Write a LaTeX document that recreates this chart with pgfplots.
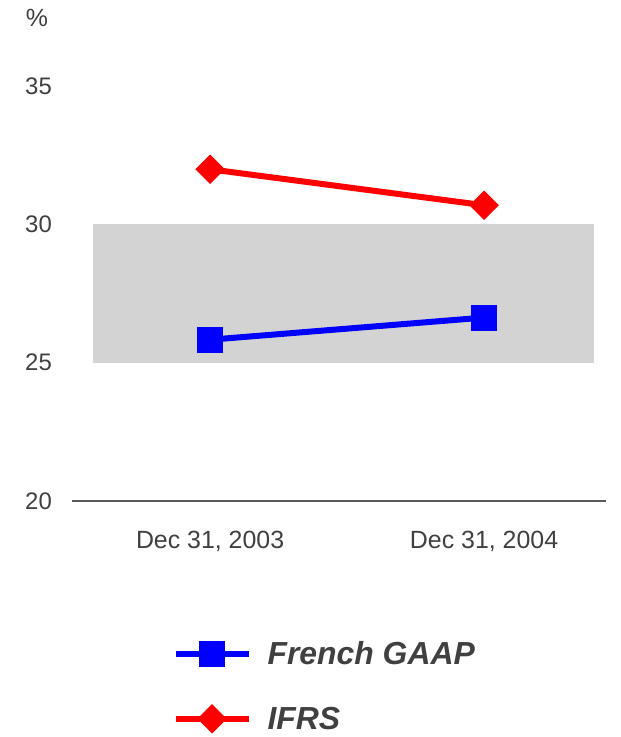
\documentclass[border=0pt]{standalone}
\usepackage{pgfplots}
\pgfplotsset{compat=1.18}
\usepackage{fontspec}
\setmainfont{Liberation Sans}
\definecolor{txt}{HTML}{404040}
\definecolor{band}{HTML}{D3D3D3}
\definecolor{axln}{HTML}{595959}
\begin{document}
\begin{tikzpicture}
\useasboundingbox (0,0) rectangle (621bp,737bp);
\begin{axis}[
  at={(72bp,236bp)}, anchor=south west,
  scale only axis, width=534bp, height=415bp,
  xmin=-0.504, xmax=1.445, ymin=20, ymax=35,
  axis x line=bottom, axis y line=left,
  axis line style={-},
  x axis line style={draw=axln, line width=1.5bp},
  y axis line style={draw=none},
  major tick length=0pt,
  xtick={0,1}, xticklabels={{Dec 31, 2003}, {Dec 31, 2004}},
  ytick={20,25,30,35},
  /pgf/number format/assume math mode=true,
  tick label style={font=\fontsize{24}{27}\selectfont, text=txt},
  yticklabel style={anchor=east, inner sep=0pt, xshift=-20bp},
  xticklabel style={anchor=north, inner sep=0pt, yshift=-30bp, font=\fontsize{25}{28}\selectfont},
  clip=false,
  legend style={draw=none, fill=none, at={(0.188,-0.333)}, anchor=north west,
    font=\fontsize{32}{36}\selectfont\bfseries\itshape, text=txt,
    row sep=37bp, inner sep=0pt,
    /tikz/every odd column/.append style={column sep=14bp}},
  legend cell align=left,
  legend image code/.code={\draw[#1, mark repeat=2, mark phase=2] plot coordinates {(0bp,0bp) (36.5bp,0bp) (73bp,0bp)};},
]
\addplot[fill=band, draw=none, forget plot] coordinates {(-0.427,25) (1.4,25) (1.4,30) (-0.427,30)} -- cycle;
\addplot[blue, line width=6bp, mark=square*, mark size=10bp, mark options={solid}] coordinates {(0,25.83) (1,26.63)};
\addlegendentry{French GAAP}
\addplot[red, line width=6bp, mark=square*, mark size=7.4bp, mark options={solid, rotate=45}] coordinates {(0,31.99) (1,30.69)};
\addlegendentry{IFRS}
\node[font=\fontsize{25}{28}\selectfont, text=txt] at (rel axis cs:-0.0655,1.164) {\%};
\end{axis}
\end{tikzpicture}
\end{document}
